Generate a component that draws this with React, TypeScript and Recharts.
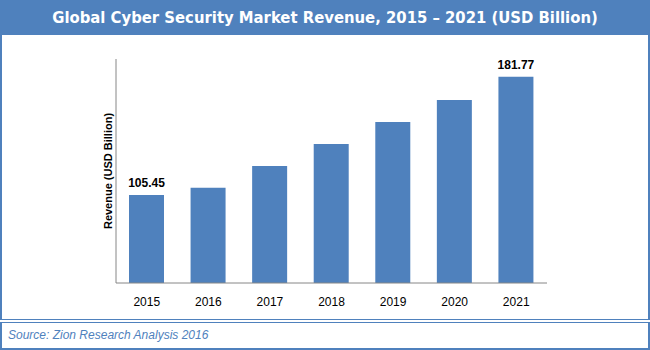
import { BarChart, Bar, XAxis, YAxis, LabelList } from "recharts";

const years = ["2015", "2016", "2017", "2018", "2019", "2020", "2021"];
const revenue = [105.45, 110.2, 124.2, 138.4, 152.6, 166.8, 181.77];
const valueLabels = ["105.45", "", "", "", "", "", "181.77"];

const data = years.map((year, i) => ({
  year,
  revenue: revenue[i],
  label: valueLabels[i],
}));

const BLUE = "#4F81BD";

const YLabel = (props: any) => {
  const vb = props.viewBox || { x: 0, y: 0, width: 0, height: 0 };
  const cx = vb.x + vb.width - 8;
  const cy = vb.y + vb.height / 2;
  return (
    <text
      x={cx}
      y={cy}
      transform={`rotate(-90 ${cx} ${cy})`}
      textAnchor="middle"
      dominantBaseline="central"
      fontFamily="'Liberation Sans', Arial, sans-serif"
      fontWeight="bold"
      fontSize={11}
      fill="#000"
    >
      Revenue (USD Billion)
    </text>
  );
};

export default function App() {
  return (
    <div
      style={{
        position: "absolute",
        left: 0,
        top: 0,
        width: 650,
        height: 350,
        background: "#fff",
        fontFamily: "'Liberation Sans', Arial, sans-serif",
      }}
    >
      <div
        style={{
          position: "absolute",
          left: 0,
          top: 0,
          width: 650,
          height: 35,
          background: BLUE,
          color: "#fff",
          fontFamily: "'DejaVu Sans Condensed', 'DejaVu Sans', sans-serif",
          fontWeight: "bold",
          fontSize: 16.5,
          lineHeight: "35px",
          textAlign: "center",
        }}
      >
        Global Cyber Security Market Revenue, 2015 – 2021 (USD Billion)
      </div>
      <div
        style={{
          position: "absolute",
          left: 0,
          top: 35,
          width: 650,
          height: 285,
          boxSizing: "border-box",
          borderLeft: `2px solid ${BLUE}`,
          borderRight: `2px solid ${BLUE}`,
          borderBottom: `1px solid ${BLUE}`,
        }}
      />
      <div style={{ position: "absolute", left: 0, top: 35 }}>
        <BarChart
          width={650}
          height={284}
          data={data}
          margin={{ top: 24, right: 103, left: 0, bottom: 0 }}
        >
          <XAxis
            dataKey="year"
            height={36}
            tickLine={false}
            tickSize={0}
            tickMargin={14}
            axisLine={{ stroke: "#868686", strokeWidth: 1 }}
            tick={{ fill: "#000", fontSize: 12 }}
          />
          <YAxis
            width={116}
            domain={[48.7, 193.2]}
            tick={false}
            tickLine={false}
            axisLine={{ stroke: "#868686", strokeWidth: 1 }}
            label={{ content: <YLabel /> }}
          />
          <Bar dataKey="revenue" fill={BLUE} barSize={35} isAnimationActive={false}>
            <LabelList
              dataKey="label"
              position="top"
              offset={8}
              fill="#000"
              fontSize={12}
              fontWeight="bold"
            />
          </Bar>
        </BarChart>
      </div>
      <div
        style={{
          position: "absolute",
          left: 0,
          top: 322,
          width: 650,
          height: 28,
          boxSizing: "border-box",
          borderLeft: `2px solid ${BLUE}`,
          borderRight: `2px solid ${BLUE}`,
          borderTop: `1px solid ${BLUE}`,
          borderBottom: `2px solid ${BLUE}`,
          color: BLUE,
          fontFamily: "'Liberation Sans', Arial, sans-serif",
          fontStyle: "italic",
          fontSize: 12,
          lineHeight: "24px",
          paddingLeft: 6,
        }}
      >
        Source: Zion Research Analysis 2016
      </div>
    </div>
  );
}
